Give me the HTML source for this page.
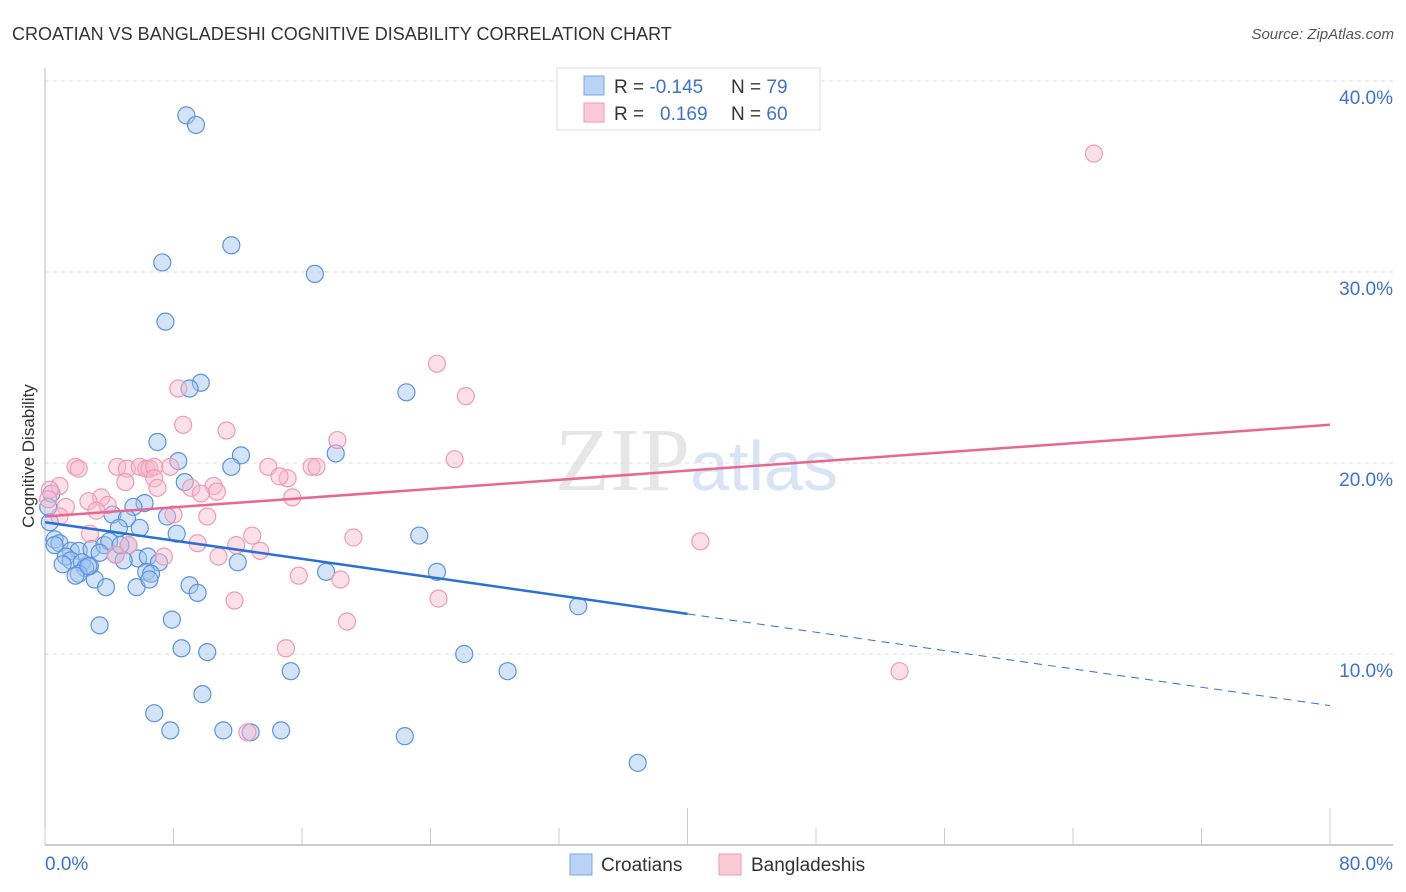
<!DOCTYPE html>
<html><head><meta charset="utf-8"><style>
body{margin:0;background:#fff;font-family:"Liberation Sans",sans-serif;}
svg{display:block}
</style></head><body>
<svg id="chart" width="1406" height="892" viewBox="0 0 1406 892" xmlns="http://www.w3.org/2000/svg">
<text x="12" y="40" font-size="18" fill="#333" font-family="Liberation Sans, sans-serif">CROATIAN VS BANGLADESHI COGNITIVE DISABILITY CORRELATION CHART</text>
<text x="1394" y="39" font-size="15" fill="#555" font-style="italic" text-anchor="end" font-family="Liberation Sans, sans-serif">Source: ZipAtlas.com</text>
<text x="555" y="490" font-size="90" fill="#e6e6e6" font-family="Liberation Serif, serif">ZIP<tspan fill="#d6e4f5" font-family="Liberation Sans, sans-serif" font-size="70">atlas</tspan></text>
<text transform="translate(34,456) rotate(-90)" font-size="17" fill="#333" text-anchor="middle" font-family="Liberation Sans, sans-serif">Cognitive Disability</text>
<g id="grid"></g><g id="axes"></g><g id="pts"></g><g id="trend"></g>
<g>
<rect x="557" y="68" width="263" height="62" fill="#fff" stroke="#ddd"/>
<rect x="584" y="76" width="20" height="19" fill="#b8d3f5" stroke="#7aa6e0"/>
<rect x="584" y="103" width="20" height="19" fill="#fcc9d7" stroke="#ec9ab2"/>
<text x="614" y="93" font-size="19" fill="#333">R = <tspan fill="#3d72cc">-0.145</tspan><tspan x="731">N = </tspan><tspan fill="#3d72cc">79</tspan></text>
<text x="614" y="120" font-size="19" fill="#333">R = <tspan x="660" fill="#3d72cc">0.169</tspan><tspan x="731">N = </tspan><tspan fill="#3d72cc">60</tspan></text>
</g>
<g>
<rect x="570" y="854" width="22" height="21" fill="#b8d3f5" stroke="#7aa6e0"/>
<text x="601" y="871" font-size="19" fill="#333">Croatians</text>
<rect x="719" y="854" width="22" height="21" fill="#fcc9d7" stroke="#ec9ab2"/>
<text x="751" y="871" font-size="19" fill="#333">Bangladeshis</text>
</g>
</svg>
<script>
const blueX=[8.8,9.4,11.6,7.3,16.8,7.5,9.7,9.0,22.5,7.0,12.2,18.1,8.3,11.6,8.7,6.2,5.5,0.4,0.3,4.2,5.1,7.6,4.6,5.9,23.3,8.2,0.6,0.9,0.6,1.6,2.1,2.9,3.7,4.0,5.2,3.4,4.4,5.8,6.4,4.9,1.3,1.6,2.3,2.8,1.1,2.5,7.1,12.0,2.1,1.9,6.3,6.6,17.5,24.4,3.1,3.8,5.7,6.5,9.0,9.5,33.2,7.9,3.4,8.5,10.1,26.1,15.3,28.8,9.8,6.8,7.8,11.1,14.7,12.8,22.4,36.9,2.7,4.7,0.2];
const blueY=[38.2,37.7,31.4,30.5,29.9,27.4,24.2,23.9,23.7,21.1,20.4,20.5,20.1,19.8,19.0,17.9,17.7,18.4,16.9,17.3,17.1,17.2,16.6,16.6,16.2,16.3,16.0,15.8,15.7,15.4,15.4,15.5,15.7,15.9,15.7,15.3,15.2,15.0,15.1,14.9,15.1,14.9,14.8,14.6,14.7,14.5,14.8,14.8,14.2,14.1,14.3,14.2,14.3,14.3,13.9,13.5,13.5,13.9,13.6,13.2,12.5,11.8,11.5,10.3,10.1,10.0,9.1,9.1,7.9,6.9,6.0,6.0,6.0,5.9,5.7,4.3,14.6,15.7,17.7];
const pinkX=[65.3,24.4,26.2,8.3,8.6,11.3,18.2,25.5,1.9,2.1,4.5,5.1,5.9,6.3,6.5,6.8,7.8,13.9,16.6,16.9,15.1,14.6,6.8,5.0,0.9,7.0,9.1,10.5,10.7,0.3,9.7,15.4,3.5,2.7,3.9,1.3,3.2,10.1,8.0,12.9,2.8,19.2,11.9,5.2,9.5,13.4,10.8,7.4,4.4,15.8,18.4,24.5,11.8,18.8,15.0,40.8,53.2,12.6,0.9,0.2];
const pinkY=[36.2,25.2,23.5,23.9,22.0,21.7,21.2,20.2,19.8,19.7,19.8,19.7,19.8,19.7,19.7,19.8,19.8,19.8,19.8,19.8,19.2,19.3,19.2,19.0,18.8,18.7,18.7,18.8,18.5,18.6,18.4,18.2,18.2,18.0,17.8,17.7,17.5,17.2,17.3,16.2,16.3,16.1,15.7,15.7,15.8,15.4,15.1,15.1,15.2,14.1,13.9,12.9,12.8,11.7,10.3,15.9,9.1,5.9,17.2,18.1];
const yTicks=[10,20,30,40];
const yTickLabels=["10.0%","20.0%","30.0%","40.0%"];
const xTicks=[0,8,16,24,32,40,48,56,64,72,80];
const blueTrend=[16.9,7.3];
const pinkTrend=[17.2,22.0];
const X0=45,X1=1330,Y0=845,PY=19.1;
const sx=v=>X0+(v/80)*(X1-X0);
const sy=v=>Y0-v*PY;
const NS="http://www.w3.org/2000/svg";
function mk(tag,attrs,parent){const e=document.createElementNS(NS,tag);for(const k in attrs)e.setAttribute(k,attrs[k]);document.getElementById(parent).appendChild(e);return e;}
yTicks.forEach((t,i)=>{
  const l=mk('line',{x1:X0,x2:1393,y1:sy(t),y2:sy(t),stroke:'#ddd','stroke-dasharray':'4,4'},'grid');
  
  
  const tx=mk('text',{x:1393,y:sy(t)+23,'text-anchor':'end','font-size':19,fill:'#3d72cc'},'grid');
  tx.textContent=yTickLabels[i];
  
  
});
const ax=mk('line',{x1:X0,x2:X0,y1:68,y2:Y0,stroke:'#bbb'},'axes');


const bx=mk('line',{x1:X0,x2:1393,y1:Y0,y2:Y0,stroke:'#bbb','stroke-width':1.5},'axes');


xTicks.forEach((t,i)=>{
  const major=(i===5||i===10);
  const l=mk('line',{x1:sx(t),x2:sx(t),y1:major?808:828,y2:Y0,stroke:'#ccc'},'axes');
  
  
});
const xl0=mk('text',{x:45,y:870,'font-size':19,fill:'#3d72cc'},'axes');xl0.textContent='0.0%';


const xl1=mk('text',{x:1393,y:870,'font-size':19,fill:'#3d72cc','text-anchor':'end'},'axes');xl1.textContent='80.0%';


blueX.forEach((v,i)=>{
  const c=mk('circle',{cx:sx(v),cy:sy(blueY[i]),r:8.5,fill:'rgba(160,196,240,0.45)',stroke:'#5b93e0','stroke-width':1.2},'pts');
  
  
});
pinkX.forEach((v,i)=>{
  const c=mk('circle',{cx:sx(v),cy:sy(pinkY[i]),r:8.5,fill:'rgba(250,185,205,0.45)',stroke:'#ee9ab4','stroke-width':1.2},'pts');
  
  
});
const bm=blueTrend[0]+(blueTrend[1]-blueTrend[0])*0.5;
const b1=mk('line',{x1:sx(0),y1:sy(blueTrend[0]),x2:sx(40),y2:sy(bm),stroke:'#2a6fd6','stroke-width':2.5},'trend');


const b2=mk('line',{x1:sx(40),y1:sy(bm),x2:sx(80),y2:sy(blueTrend[1]),stroke:'#2a6fd6','stroke-width':1,'stroke-dasharray':'8,6'},'trend');


const p1=mk('line',{x1:sx(0),y1:sy(pinkTrend[0]),x2:sx(80),y2:sy(pinkTrend[1]),stroke:'#e8668f','stroke-width':2.5},'trend');


</script>
</body></html>
